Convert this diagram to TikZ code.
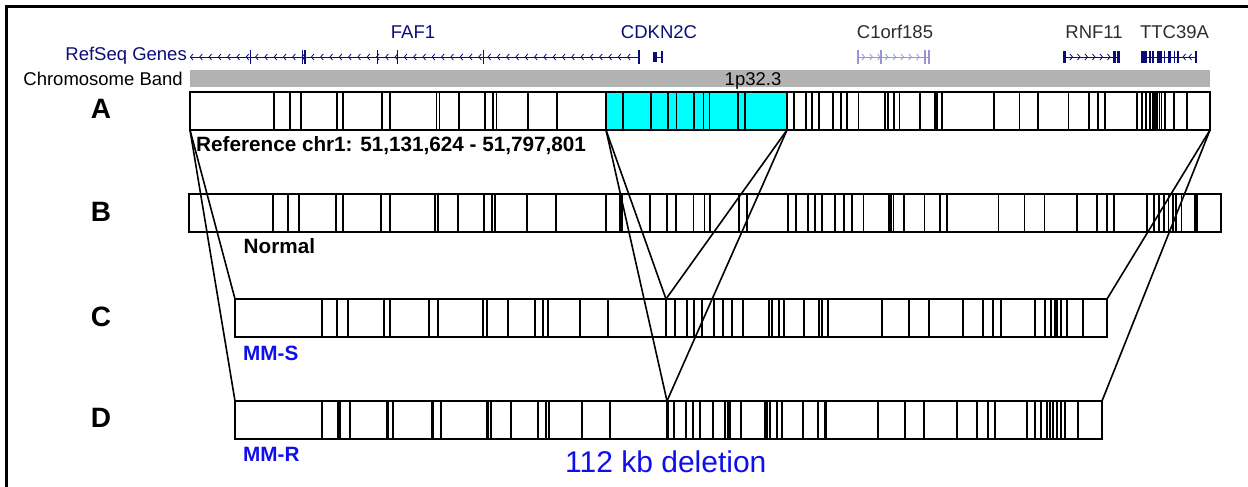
\documentclass[tikz,border=0pt]{standalone}
\usepackage{fontspec}
\setmainfont{Liberation Sans}
\definecolor{geneblue}{RGB}{12,12,120}
\definecolor{genelight}{RGB}{150,150,215}
\definecolor{genelabel}{RGB}{45,45,45}
\definecolor{bandgray}{RGB}{178,178,178}
\definecolor{sampleblue}{RGB}{15,15,235}
\definecolor{delcyan}{RGB}{0,255,255}
\newcommand\pxfont[1]{\fontsize{#1}{#1}\selectfont}
\tikzset{
  barbox/.style={rectangle, fill=white, inner sep=0pt, outer sep=0pt, anchor=north west},
  barframe/.style={draw=black, line width=2pt},
  seg/.style={line width=1.7pt},
  conn/.style={line width=1.6pt},
  rowtag/.style={font=\pxfont{28}\bfseries, anchor=base, inner sep=0pt},
  info/.style={font=\pxfont{20.7}\bfseries, anchor=base west, inner sep=0pt},
  sample/.style={info, text=sampleblue},
  trackname/.style={font=\pxfont{18.5}, anchor=base east, inner sep=0pt},
  genename/.style={font=\pxfont{18.5}, anchor=base, inner sep=0pt},
  exon/.style={line width=1.4pt},
  chev/.style={line width=0.8pt},
  intron/.style={line width=0.9pt},
}
\begin{document}
\begin{tikzpicture}[x=1pt,y=-1pt]
\useasboundingbox (0,0) rectangle (1248,487);
% outer frame
\draw[line width=2.5pt] (6.5,487) -- (6.5,6.5) -- (1248,6.5);

% ---------- gene track ----------
\node[trackname, text=geneblue] (reftrack) at (187,61) {RefSeq Genes};
\node[trackname] (bandtrack) at (183,85) {Chromosome Band};

% FAF1 (minus strand)
\draw[geneblue, intron] (190,57) -- (639,57);
\foreach \i in {0,...,47}
  \draw[geneblue, chev] ({193+9.3*\i},54) -- ({190.5+9.3*\i},57) -- ({193+9.3*\i},60);
\foreach \x in {250.7,302.7,305,377.7,397.7,483.3,639}
  \draw[geneblue, exon] (\x,50) -- (\x,64);
\node[genename, text=geneblue] (faf1) at (413,39) {FAF1};

% CDKN2C
\fill[geneblue] (652.5,52) rectangle (657,62);
\draw[geneblue, intron] (657,57) -- (662,57);
\draw[geneblue, exon] (662,51) -- (662,63);
\node[genename, text=geneblue] (cdkn2c) at (659,39) {CDKN2C};

% C1orf185 (plus strand)
\draw[genelight, intron] (858,57) -- (929,57);
\foreach \i in {0,...,7}
  \draw[genelight, chev] ({862+7.8*\i},54) -- ({864.5+7.8*\i},57) -- ({862+7.8*\i},60);
\foreach \x in {858,881,925,929}
  \draw[genelight, exon] (\x,50) -- (\x,64);
\node[genename, text=genelabel] (c1orf) at (895,39) {C1orf185};

% RNF11 (plus strand)
\draw[geneblue, intron] (1064,57) -- (1118,57);
\fill[geneblue] (1062.5,51) rectangle (1066,63);
\foreach \i in {0,...,5}
  \draw[geneblue, chev] ({1070+7.5*\i},54) -- ({1072.5+7.5*\i},57) -- ({1070+7.5*\i},60);
\fill[geneblue] (1112.5,51) rectangle (1115.5,63);
\fill[geneblue] (1117,51) rectangle (1119.5,63);
\node[genename, text=genelabel] (rnf11) at (1094,39) {RNF11};

% TTC39A (minus strand)
\draw[geneblue, intron] (1141,57) -- (1196,57);
\fill[geneblue] (1140.5,51) rectangle (1146.5,63);
\fill[geneblue] (1156.5,51) rectangle (1161.5,63);
\fill[geneblue] (1167.5,51) rectangle (1171,63);
\foreach \x in {1150,1153,1164.5,1174.5,1178,1196}
  \draw[geneblue, exon] (\x,51) -- (\x,63);
\foreach \x in {1183,1189}
  \draw[geneblue, chev] (\x+2.5,54) -- (\x,57) -- (\x+2.5,60);
\node[genename, text=genelabel] (ttc39a) at (1174.5,39) {TTC39A};

% chromosome band
\node[rectangle, fill=bandgray, anchor=north west, inner sep=0pt, outer sep=0pt,
      minimum width=1020pt, minimum height=17pt] (band) at (190,70) {};
\node[genename] (bandname) at (753,85) {1p32.3};

% ---------- row A : reference ----------
\node[barbox, minimum width=1020pt, minimum height=38pt] (barA) at (190,92) {};
\node[rectangle, fill=delcyan, inner sep=0pt, outer sep=0pt, anchor=north west,
      minimum width=181pt, minimum height=38pt] (del) at (606,92) {};
\foreach \x in {274,290,301,337,343,382,390,436.5,439.5,459,485,493,496.5,528,557,
  606,623,651,668,676.5,694,703.5,709.6,738,745,787,
  794,806,812,819,833,841,847,858.6,884.7,888,894,899.4,920,935,937,942,994,
  1019.4,1038,1068.4,1089,1098,1105,1137,1142,1146,1150,1153,1155,1157,1159.4,
  1161.4,1164.7,1173.7,1186.7}
  \draw[seg] (\x,92) -- (\x,130);
\draw[barframe] (barA.north west) rectangle (barA.south east);

% ---------- row B : normal ----------
\node[barbox, minimum width=1032pt, minimum height=38pt] (barB) at (189,194) {};
\foreach \x in {273,288,299,336,342.7,381.3,390,435,437.7,457.7,484,491.7,495,527.3,
  555.7,606,620,622,650,666.7,676,693.4,704.5,709.7,739.3,746.9,788.3,795.9,807.9,
  814.8,821.7,834.8,844.1,852.1,863.4,889,890.7,893.4,903.8,924.5,940,946.9,998.6,
  1024.5,1044.5,1076.9,1096.9,1107.2,1114.1,1146.9,1153.8,1159,1164.1,1168.6,
  1172.8,1176.2,1181.4,1195.2,1196.9}
  \draw[seg] (\x,194) -- (\x,232);
\draw[barframe] (barB.north west) rectangle (barB.south east);

% ---------- row C : MM-S ----------
\node[barbox, minimum width=872pt, minimum height=38pt] (barC) at (235,299) {};
\foreach \x in {321.7,337.3,347.7,384.3,390,429.3,438.3,483.3,486.7,508.3,535,543.3,
  547.7,580,608.3,666,675,686.7,694,702,714,723,732,743,769,772,779,784,804,819,822,
  828,882,909,929,963,983,993,1001,1035,1045,1051,1055,1057,1061,1067,1083}
  \draw[seg] (\x,299) -- (\x,337);
\draw[barframe] (barC.north west) rectangle (barC.south east);

% ---------- row D : MM-R ----------
\node[barbox, minimum width=867pt, minimum height=38pt] (barD) at (235,401) {};
\foreach \x in {321.7,338.3,340,350,386.7,388.3,392.7,431.7,433.3,441,486.7,488.3,
  490.7,510.7,537.7,546,549.3,581.7,610,666.7,668.3,674,686,692.7,700,712.7,725.3,
  728.3,730,740.7,765,766.7,770,777.3,781.7,802.7,818.3,825,826,878.3,905,924,
  956.7,976.7,988.3,995,1027.3,1035,1040.7,1046.7,1050,1053.3,1057.3,1060.7,1065,
  1078.3}
  \draw[seg] (\x,401) -- (\x,439);
\draw[barframe] (barD.north west) rectangle (barD.south east);

% ---------- mapping lines ----------
\coordinate (jC) at (666,299);
\coordinate (jD) at (667,401);
\draw[conn] (barA.south west) -- (barC.north west);
\draw[conn] (barA.south west) -- (barD.north west);
\draw[conn] (del.south west) -- (jC);
\draw[conn] (del.south west) -- (jD);
\draw[conn] (del.south east) -- (jC);
\draw[conn] (del.south east) -- (jD);
\draw[conn] (barA.south east) -- (barC.north east);
\draw[conn] (barA.south east) -- (barD.north east);

% ---------- labels ----------
\node[rowtag] (tagA) at (101,118) {A};
\node[rowtag] (tagB) at (101,221) {B};
\node[rowtag] (tagC) at (101,326) {C};
\node[rowtag] (tagD) at (101,427) {D};
\node[info] (refinfo) at (196,151) {Reference chr1: 51,131,624 - 51,797,801};
\node[info] (normal) at (243.5,253) {Normal};
\node[sample] (mms) at (243,360) {MM-S};
\node[sample] (mmr) at (243,461.5) {MM-R};
\node[font=\pxfont{30}, text=sampleblue, anchor=base west, inner sep=0pt] (delsize)
  at (565,472) {112 kb deletion};
\end{tikzpicture}
\end{document}
